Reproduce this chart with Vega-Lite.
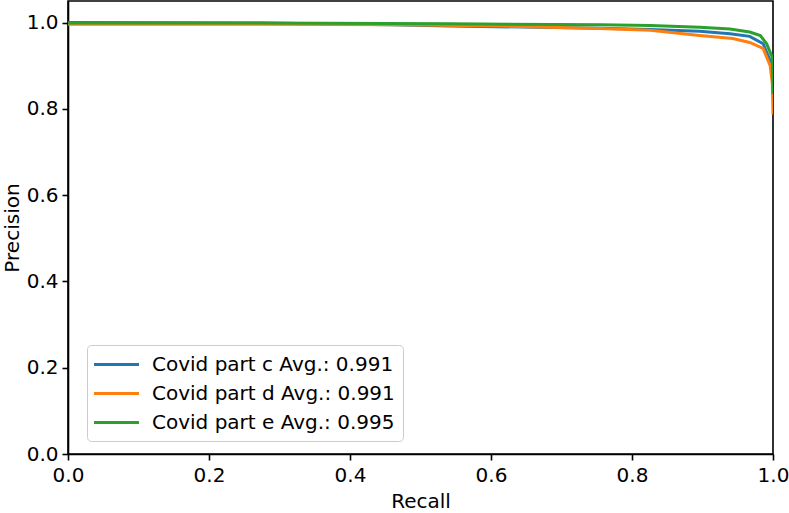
{
  "$schema": "https://vega.github.io/schema/vega-lite/v6.json",
  "width": 705,
  "height": 453,
  "autosize": {"type": "none"},
  "padding": {"left": 68, "top": 1, "right": 16, "bottom": 59},
  "background": "white",
  "config": {
    "font": "DejaVu Sans",
    "view": {"stroke": "black", "strokeWidth": 1.6},
    "axis": {
      "domainColor": "black", "domainWidth": 1.6, "tickColor": "black", "tickWidth": 1.6, "tickSize": 6,
      "labelFont": "DejaVu Sans", "labelFontSize": 20, "labelColor": "black",
      "titleFont": "DejaVu Sans", "titleFontSize": 20, "titleFontWeight": "normal", "titleColor": "black",
      "grid": false
    }
  },
  "data": {"values": [
    {"s": "Covid part c Avg.: 0.991", "r": 0.0, "p": 1.0},
    {"s": "Covid part c Avg.: 0.991", "r": 0.272, "p": 0.999},
    {"s": "Covid part c Avg.: 0.991", "r": 0.457, "p": 0.995},
    {"s": "Covid part c Avg.: 0.991", "r": 0.542, "p": 0.992},
    {"s": "Covid part c Avg.: 0.991", "r": 0.755, "p": 0.987},
    {"s": "Covid part c Avg.: 0.991", "r": 0.826, "p": 0.984},
    {"s": "Covid part c Avg.: 0.991", "r": 0.896, "p": 0.980},
    {"s": "Covid part c Avg.: 0.991", "r": 0.939, "p": 0.974},
    {"s": "Covid part c Avg.: 0.991", "r": 0.967, "p": 0.968},
    {"s": "Covid part c Avg.: 0.991", "r": 0.986, "p": 0.951},
    {"s": "Covid part c Avg.: 0.991", "r": 0.996, "p": 0.912},
    {"s": "Covid part c Avg.: 0.991", "r": 0.999, "p": 0.88},
    {"s": "Covid part c Avg.: 0.991", "r": 1.0, "p": 0.826},
    {"s": "Covid part d Avg.: 0.991", "r": 0.0, "p": 0.996},
    {"s": "Covid part d Avg.: 0.991", "r": 0.272, "p": 0.996},
    {"s": "Covid part d Avg.: 0.991", "r": 0.471, "p": 0.995},
    {"s": "Covid part d Avg.: 0.991", "r": 0.613, "p": 0.992},
    {"s": "Covid part d Avg.: 0.991", "r": 0.755, "p": 0.986},
    {"s": "Covid part d Avg.: 0.991", "r": 0.826, "p": 0.982},
    {"s": "Covid part d Avg.: 0.991", "r": 0.896, "p": 0.970},
    {"s": "Covid part d Avg.: 0.991", "r": 0.943, "p": 0.963},
    {"s": "Covid part d Avg.: 0.991", "r": 0.967, "p": 0.954},
    {"s": "Covid part d Avg.: 0.991", "r": 0.986, "p": 0.94},
    {"s": "Covid part d Avg.: 0.991", "r": 0.996, "p": 0.90},
    {"s": "Covid part d Avg.: 0.991", "r": 0.999, "p": 0.86},
    {"s": "Covid part d Avg.: 0.991", "r": 1.0, "p": 0.787},
    {"s": "Covid part e Avg.: 0.995", "r": 0.0, "p": 0.999},
    {"s": "Covid part e Avg.: 0.995", "r": 0.272, "p": 0.999},
    {"s": "Covid part e Avg.: 0.995", "r": 0.542, "p": 0.997},
    {"s": "Covid part e Avg.: 0.995", "r": 0.755, "p": 0.995},
    {"s": "Covid part e Avg.: 0.995", "r": 0.826, "p": 0.993},
    {"s": "Covid part e Avg.: 0.995", "r": 0.896, "p": 0.989},
    {"s": "Covid part e Avg.: 0.995", "r": 0.939, "p": 0.985},
    {"s": "Covid part e Avg.: 0.995", "r": 0.967, "p": 0.978},
    {"s": "Covid part e Avg.: 0.995", "r": 0.982, "p": 0.970},
    {"s": "Covid part e Avg.: 0.995", "r": 0.991, "p": 0.951},
    {"s": "Covid part e Avg.: 0.995", "r": 0.999, "p": 0.919},
    {"s": "Covid part e Avg.: 0.995", "r": 1.0, "p": 0.835}
  ]},
  "mark": {"type": "line", "strokeWidth": 3, "clip": true},
  "encoding": {
    "x": {"field": "r", "type": "quantitative", "title": "Recall",
      "scale": {"domain": [0, 1], "nice": false, "zero": false},
      "axis": {"values": [0, 0.2, 0.4, 0.6, 0.8, 1.0], "format": ".1f", "labelPadding": 5, "titlePadding": 6, "labelFlush": false}},
    "y": {"field": "p", "type": "quantitative", "title": "Precision",
      "scale": {"domain": [0, 1.05], "nice": false, "zero": false},
      "axis": {"values": [0, 0.2, 0.4, 0.6, 0.8, 1.0], "format": ".1f", "labelPadding": 4, "titlePadding": 4, "labelFlush": false}},
    "color": {"field": "s", "type": "nominal",
      "scale": {"range": ["#1f77b4", "#ff7f0e", "#2ca02c"]},
      "legend": {"title": null, "orient": "none", "legendX": 19, "legendY": 344,
        "fillColor": "white", "strokeColor": "#cccccc", "cornerRadius": 4, "padding": 8,
        "symbolType": "M-2.25,0H2.25", "symbolSize": 400, "symbolStrokeWidth": 3, "symbolOffset": 10,
        "labelExpr": "datum.label + '  '",
        "labelFontSize": 20, "labelFont": "DejaVu Sans", "labelColor": "black", "labelLimit": 400, "labelOffset": 24, "rowPadding": 7}}
  }
}
